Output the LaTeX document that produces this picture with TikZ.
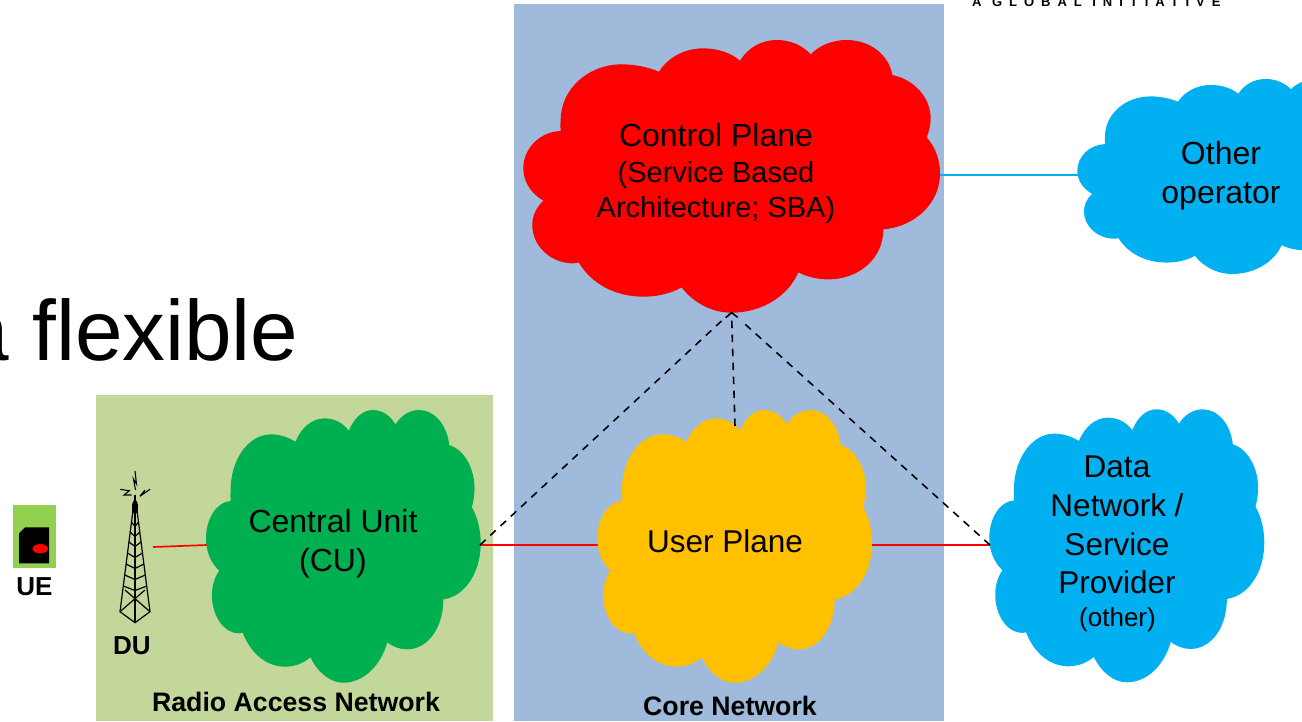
\documentclass[tikz,border=0pt]{standalone}
\usepackage{fontspec}
\setmainfont{Liberation Sans}
\usetikzlibrary{arrows.meta}
\newcommand{\cloudpath}{(137,303) .. controls (136,292) and (136,281) .. (137,270)
 .. controls (137,178) and (219,103) .. (320,103)
 .. controls (360,103) and (398,111) .. (432,125)
 .. controls (458,83) and (508,55) .. (565,55)
 .. controls (610,55) and (650,70) .. (675,92)
 .. controls (700,52) and (740,30) .. (785,30)
 .. controls (825,30) and (862,45) .. (887,73)
 .. controls (913,46) and (952,30) .. (995,30)
 .. controls (1065,30) and (1122,75) .. (1132,135)
 .. controls (1197,148) and (1247,203) .. (1247,265)
 .. controls (1247,285) and (1242,304) .. (1235,322)
 .. controls (1260,350) and (1275,388) .. (1275,430)
 .. controls (1275,520) and (1200,590) .. (1105,598)
 .. controls (1105,686) and (1031,748) .. (940,748)
 .. controls (908,748) and (878,741) .. (850,727)
 .. controls (820,797) and (742,848) .. (650,848)
 .. controls (590,848) and (535,818) .. (500,772)
 .. controls (468,790) and (428,800) .. (385,800)
 .. controls (300,800) and (228,760) .. (192,698)
 .. controls (186,699) and (181,700) .. (175,700)
 .. controls (107,700) and (52,648) .. (52,585)
 .. controls (52,557) and (64,532) .. (85,512)
 .. controls (48,490) and (25,455) .. (25,415)
 .. controls (25,355) and (75,305) .. (137,303) -- cycle}
% color, left, top, width, height
\newcommand{\cloudat}[5]{\begin{scope}[shift={(#2,#3)},xscale=#4/1250,yscale=#5/818,shift={(-25,-30)}]\fill[#1] \cloudpath;\end{scope}}
\tikzset{
  lbl/.style={font=\fontsize{32}{39}\selectfont, align=center, text=black, inner sep=0pt},
  lblb/.style={font=\fontsize{26.7}{30}\selectfont\bfseries, text=black, inner sep=0pt},
  lblc/.style={font=\fontsize{26}{30}\selectfont\bfseries, text=black, inner sep=0pt},
  redline/.style={draw=red, line width=1.7pt},
  blueline/.style={draw=cyanb, line width=1.7pt},
  dashline/.style={draw=black, line width=1.6pt, dash pattern=on 7.5pt off 6.5pt},
  towerline/.style={draw=black, line width=1.2pt}
}
\definecolor{coreb}{HTML}{9FBADB}
\definecolor{rang}{HTML}{C4D79B}
\definecolor{greenc}{HTML}{00B050}
\definecolor{yellowc}{HTML}{FFC000}
\definecolor{cyanb}{HTML}{00B0F0}
\definecolor{uegreen}{HTML}{92D050}
\begin{document}
\begin{tikzpicture}[x=1pt,y=-1pt]
\useasboundingbox (0,0) rectangle (1302,721);
\clip (0,0) rectangle (1302,721);
\fill[rang] (96,395) rectangle (493,721);
\fill[coreb] (514,4) rectangle (944,721);
\node[font=\fontsize{85.5}{90}\selectfont, anchor=base west, inner sep=0pt] (title) at (-39,360) {a flexible};
\node[font=\fontsize{13}{14}\selectfont\bfseries\addfontfeature{LetterSpace=53.5}, anchor=base west, inner sep=0pt] (logo) at (972,6.5) {A GLOBAL INITIATIVE};
% connectors
\coordinate (a1) at (153,547);
\coordinate (a2) at (207,545);
\coordinate (b1) at (480,545);
\coordinate (b2) at (598,545);
\coordinate (c1) at (872,545);
\coordinate (c2) at (990,545);
\coordinate (d1) at (940,175);
\coordinate (d2) at (1079,175);
\coordinate (apex) at (731.5,311.5);
\coordinate (apl) at (722,320.5);
\coordinate (apr) at (741,320.5);
\coordinate (upt) at (735,426);
\draw[redline] (a1) -- (a2);
\draw[redline] (b1) -- (b2);
\draw[redline] (c1) -- (c2);
\draw[blueline] (d1) -- (d2);
% clouds
\cloudat{red}{523.3}{40}{416.7}{272.7}
\cloudat{greenc}{206}{410}{274.7}{272.7}
\cloudat{yellowc}{597.3}{410}{274.7}{272.7}
\cloudat{cyanb}{989.3}{409.3}{275}{273}
\cloudat{cyanb}{1077.3}{79}{309.6}{195}
\draw[dashline] (b1) -- (apl);
\draw[dashline] (c2) -- (apr);
\draw[dashline, -{Straight Barb[length=5pt,width=12pt]}] (upt) -- (apex);
% labels
\node[lbl] (cp) at (716,135) {Control Plane};
\node[lbl, font=\fontsize{29}{35}\selectfont] (cp2) at (716,192) {(Service Based\\Architecture; SBA)};
\node[lbl] (cu) at (333,543.5) {Central Unit\\(CU)};
\node[lbl, font=\fontsize{31.5}{38}\selectfont] (up) at (725,541) {User Plane};
\node[lbl] (oo) at (1221,175.5) {Other\\operator};
\node[lbl, font=\fontsize{31.5}{38.7}\selectfont] (dn) at (1117,525) {Data\\Network /\\Service\\Provider};
\node[lbl, font=\fontsize{26}{28}\selectfont] (dn2) at (1117.5,620) {(other)};
\node[lblb] (rl) at (296,702) {Radio Access Network};
\node[lblb] (cl) at (730,706) {Core Network};
\node[lblc] (ue) at (34.5,587) {UE};
\node[lblc] (du) at (132,646) {DU};
% UE
\node[fill=uegreen, minimum width=43pt, minimum height=63pt, inner sep=0pt] (uebox) at (34.5,536.3) {};
\fill[black] (25,527.3) -- (49,527.3) -- (49,563.3) -- (19,563.3) -- (19,533.5) -- cycle;
\fill[red] (40.3,548.7) ellipse [x radius=7.7, y radius=4.7];
% tower
\coordinate (tl) at (120,611.7);
\coordinate (tr) at (150,611.7);
\coordinate (tb) at (135,622.7);
\draw[towerline] (133.3,508) -- (tl) -- (tb) -- (tr) -- (136.7,508);
\draw[towerline] (135,508) -- (tb);
\draw[towerline] (tl) -- (145,590) (tr) -- (125,590);
\foreach \y/\w in {522/3.5, 532/4.8, 542/6, 553/7.5, 564/9, 575/10.3, 586/11.8} {
  \draw[towerline] (135-\w,\y) -- (135,\y+4.5) -- (135+\w,\y);
}
\fill[black] (135,507) ellipse [x radius=3, y radius=7];
\draw[towerline] (135,495) -- (135,505);
\draw[black, line width=1.1pt] (135,471) -- (136.5,484) -- (133.5,479) -- (135.5,490);
\draw[black, line width=1.1pt] (120,489.3) -- (129.3,490.7) -- (124,495) -- (131.7,495);
\draw[black, line width=1.1pt] (150,489.3) -- (141.7,495) -- (145,490) -- (140,496);
\end{tikzpicture}
\end{document}
